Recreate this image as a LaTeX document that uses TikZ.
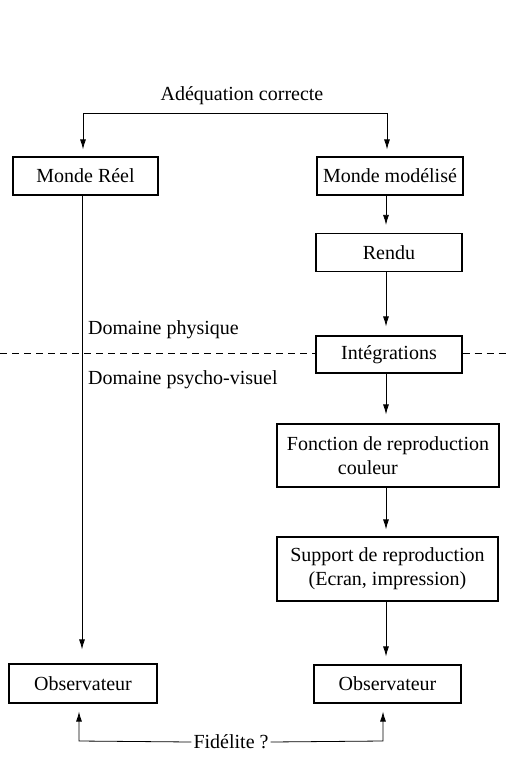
\documentclass[tikz,border=0pt]{standalone}
\usepackage{fontspec}
\setmainfont{Liberation Serif}
\usetikzlibrary{arrows.meta}
\begin{document}
\begin{tikzpicture}[x=1pt,y=-1pt,
  font=\fontsize{20}{24}\selectfont,
  box/.style={draw, line width=1.2pt, inner sep=0pt, align=center},
  conn/.style={line width=0.8pt},
  arr/.style={conn, -{Latex[length=10pt,width=6pt]}},
  lbl/.style={inner sep=0pt}]
\useasboundingbox (0,0) rectangle (518,759);
% boxes
\node[box, minimum width=145pt, minimum height=38pt] (mr) at (85.5,176) {Monde Réel};
\node[box, minimum width=146pt, minimum height=38pt] (mm) at (390,176) {Monde modélisé};
\node[box, minimum width=146pt, minimum height=38pt] (rendu) at (389,252.5) {Rendu};
\node[box, minimum width=146pt, minimum height=37pt] (integ) at (389,354.5) {Intégrations};
\node[box, minimum width=222pt, minimum height=63pt, align=left] (fonc) at (388,455.5) {Fonction de reproduction\\\hspace*{51pt}couleur};
\node[box, minimum width=221pt, minimum height=64pt] (supp) at (387.5,569) {Support de reproduction\\(Ecran, impression)};
\node[box, minimum width=148pt, minimum height=39pt] (obsL) at (83,683.5) {Observateur};
\node[box, minimum width=147pt, minimum height=38pt] (obsR) at (387.5,684) {Observateur};
% labels
\node[lbl] (adeq) at (242,96) {Adéquation correcte};
\node[lbl, anchor=west] (phys) at (88,330) {Domaine physique};
\node[lbl, anchor=west] (psy) at (88,380) {Domaine psycho-visuel};
\node[inner xsep=2pt, inner ysep=0pt] (fid) at (231,742) {Fidélite ?};
% column coordinates
\coordinate (tl) at (83,113);
\coordinate (tr) at (387,113);
\coordinate (lx) at (82,0);
\coordinate (rx) at (386,0);
\coordinate (bl) at (79,741);
\coordinate (br) at (383,741);
\coordinate (dl) at (0,353);
\coordinate (dr) at (507,353);
% top connector
\draw[conn, {Latex[length=10pt,width=6pt]}-{Latex[length=10pt,width=6pt]}, shorten <=7pt, shorten >=7pt]
  (mr.north -| tl) -- (tl) -- (tr) -- (mm.north -| tr);
% right column
\draw[arr, shorten >=8pt] (mm.south -| rx) -- (rendu.north -| rx);
\draw[arr, shorten >=9pt] (rendu.south -| rx) -- (integ.north -| rx);
\draw[arr, shorten >=9pt] (integ.south -| rx) -- (fonc.north -| rx);
\draw[arr, shorten >=7pt] (fonc.south -| rx) -- (supp.north -| rx);
\draw[arr, shorten >=8pt] (supp.south -| rx) -- (obsR.north -| rx);
% left column
\draw[arr, shorten >=14pt] (mr.south -| lx) -- (obsL.north -| lx);
% dashed separation
\draw[line width=0.7pt, dash pattern=on 7pt off 5pt] (dl) -- (integ.west |- dl);
\draw[line width=0.7pt, dash pattern=on 7pt off 5pt] (integ.east |- dr) -- (dr);
% bottom connector
\draw[conn, {Latex[length=10pt,width=6pt]}-, shorten <=8pt] (obsL.south -| bl) -- (bl) -- (fid.west);
\draw[conn, -{Latex[length=10pt,width=6pt]}, shorten >=8pt] (fid.east) -- (br) -- (obsR.south -| br);
\end{tikzpicture}
\end{document}
